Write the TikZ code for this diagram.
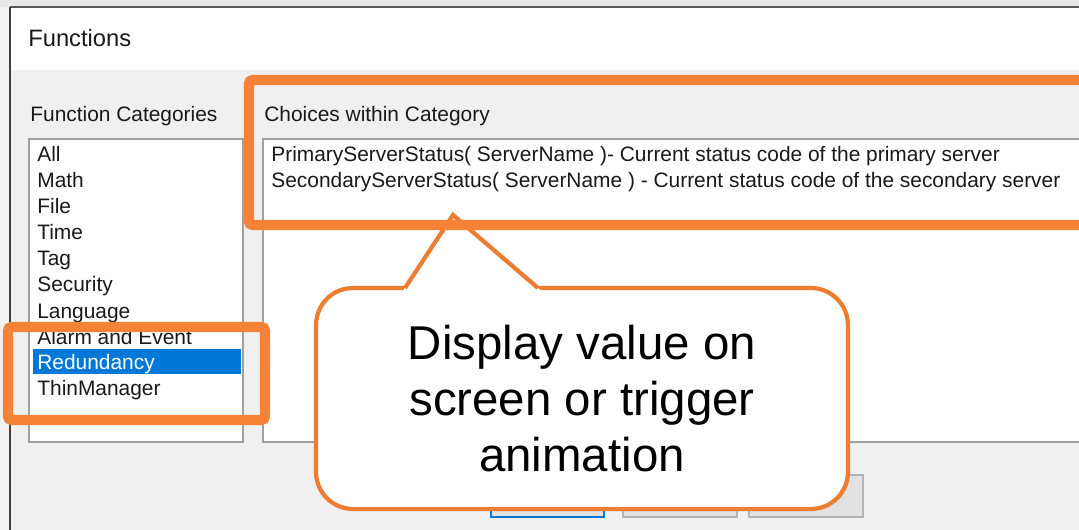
\documentclass[tikz,border=0pt]{standalone}
\usepackage{fontspec}
\setmainfont{Liberation Sans}
\usepackage{xcolor}
\usepackage{tikz}
\usetikzlibrary{positioning,calc}

\definecolor{dlggray}{RGB}{240,240,240}
\definecolor{hlblue}{RGB}{0,120,215}
\definecolor{markorange}{RGB}{246,130,56}
\definecolor{noteorange}{RGB}{237,125,49}
\definecolor{framegray}{RGB}{160,160,160}
\definecolor{btngray}{RGB}{225,225,225}

\begin{document}
\begin{tikzpicture}[x=0.02cm, y=-0.02cm,
    uitext/.style={inner sep=0pt, anchor=base west, font=\fontsize{11.9}{14}\selectfont, text=black!90},
    listframe/.style={draw=framegray, line width=1.1pt, fill=white},
    markbox/.style={draw=markorange, line width=5.7pt, rounded corners=2pt},
    button/.style={draw=framegray!80, fill=btngray, line width=1pt},
    callout/.style={draw=noteorange, line width=2.4pt, fill=white, rounded corners=0.74cm,
        minimum width=10.64cm, minimum height=4.42cm, align=center,
        font=\fontsize{27}{31.7}\selectfont}]
    \clip (0,0) rectangle (1079,530);

    % window and dialog background
    \fill[gray!10] (0,0) rectangle (1079,530);
    \fill[gray!18] (0,0) rectangle (1079,7);
    \fill[white] (10,7) rectangle (1079,70);
    \fill[dlggray] (10,70) rectangle (1079,530);
    \draw[black!65, line width=1pt] (10,7) -- (1079,7);
    \draw[black!75, line width=1.2pt] (10,7) -- (10,530);
    \node[uitext, font=\fontsize{13.5}{16}\selectfont] (title) at (28,47) {Functions};

    % list boxes
    \node[uitext] (catlabel) at (30,122) {Function Categories};
    \node[uitext] (choicelabel) at (264,122) {Choices within Category};
    \draw[listframe] (29,139) rectangle (243,442);
    \draw[listframe] (263,139) rectangle (1100,442);
    \fill[hlblue] (33,349) rectangle (241,374);

    \foreach \cat [count=\i] in {All,Math,File,Time,Tag,Security,Language,Alarm and Event}
        \node[uitext] (cat\i) at (37,136+26*\i) {\cat};
    \node[uitext, text=white] (cat9) at (37,370) {Redundancy};
    \node[uitext] (cat10) at (37,396) {ThinManager};

    \node[uitext] (primary) at (271,162) {PrimaryServerStatus( ServerName )- Current status code of the primary server};
    \node[uitext] (secondary) at (271,188) {SecondaryServerStatus( ServerName ) - Current status code of the secondary server};

    % buttons
    \draw[draw=hlblue, fill=btngray, line width=1.6pt] (491,475) rectangle (604,517);
    \draw[button] (623,475) rectangle (737,517);
    \draw[button] (749,475) rectangle (863,517);

    \draw[markbox] (8,327) rectangle (265,420);

    % callout
    \node[callout] (note) at (582,398.5) {Display value on\\screen or trigger\\animation};
    \coordinate (tip) at (453,215);
    \fill[white] (402.5,291.5) -- (tip) -- (542,291.5) -- cycle;
    \draw[noteorange, line width=2.4pt, line join=miter] (405,288) -- (tip) -- (538,288);

    \draw[markbox] (249,80) rectangle (1095,225);
\end{tikzpicture}
\end{document}
